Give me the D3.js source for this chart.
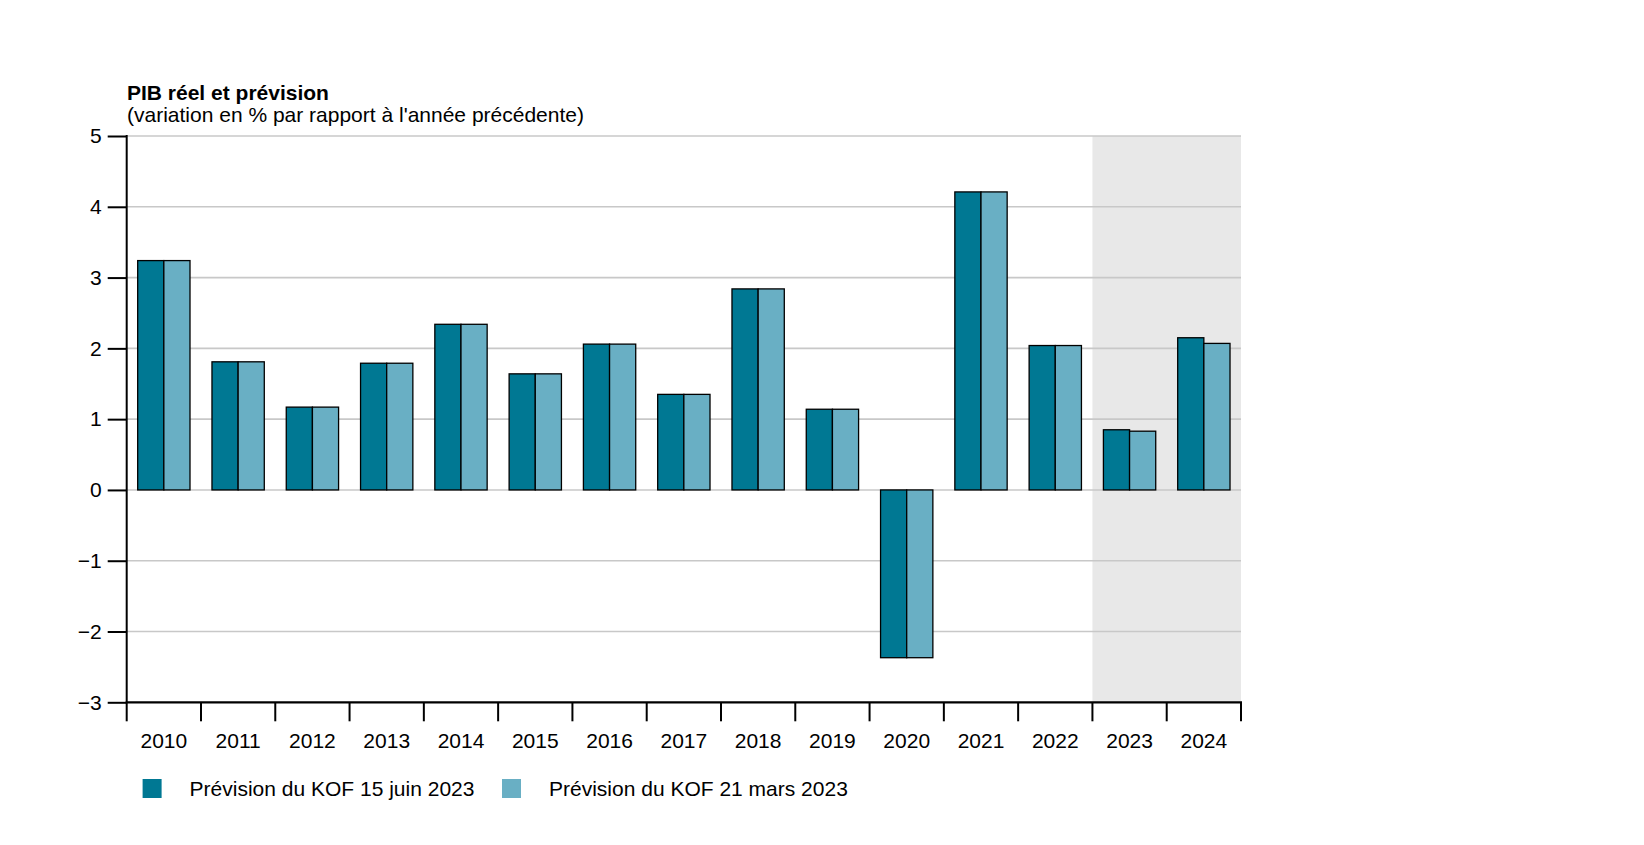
<!DOCTYPE html>
<html>
<head>
<meta charset="utf-8">
<script src="https://cdn.jsdelivr.net/npm/d3@7"></script>
<style>
  html, body { margin: 0; padding: 0; background: #fff; }
  svg { display: block; font-family: "Liberation Sans", Arial, Helvetica, sans-serif; }
</style>
</head>
<body>
<svg id="chart" width="1644" height="845"></svg>
<script>
// ---- data ----
const years = ["2010","2011","2012","2013","2014","2015","2016","2017","2018","2019","2020","2021","2022","2023","2024"];
const kofJune2023  = [3.24, 1.81, 1.17, 1.79, 2.34, 1.64, 2.06, 1.35, 2.84, 1.14, -2.37, 4.21, 2.04, 0.85, 2.15];
const kofMarch2023 = [3.24, 1.81, 1.17, 1.79, 2.34, 1.64, 2.06, 1.35, 2.84, 1.14, -2.37, 4.21, 2.04, 0.83, 2.07];
const seriesNames = ["Prévision du KOF 15 juin 2023", "Prévision du KOF 21 mars 2023"];
const forecastYears = ["2023", "2024"];
const yTicks = [-3, -2, -1, 0, 1, 2, 3, 4, 5];
const titleText = "PIB réel et prévision";
const subtitleText = "(variation en % par rapport à l'année précédente)";

// ---- layout ----
const colors = ["#007893", "#69afc4"];
const pLeft = 126.7, pRight = 1241, pTop = 136, pBottom = 702.3;
const fs = 21;

const svg = d3.select("#chart");

const x = d3.scaleBand().domain(years).range([pLeft, pRight]).padding(0);
const x1 = d3.scaleBand().domain([0, 1]).range([0, x.bandwidth()]).paddingInner(0).paddingOuter(0.42);
const y = d3.scaleLinear().domain([-3, 5]).range([pBottom, pTop]);

// forecast shading
svg.append("rect")
  .attr("x", x(forecastYears[0]))
  .attr("y", y(5))
  .attr("width", x(forecastYears[forecastYears.length - 1]) + x.bandwidth() - x(forecastYears[0]))
  .attr("height", y(-3) - y(5))
  .attr("fill", "#e8e8e8");

// gridlines
svg.append("g")
  .selectAll("line")
  .data(yTicks.filter(d => d > -3))
  .join("line")
  .attr("x1", pLeft).attr("x2", pRight)
  .attr("y1", d => y(d)).attr("y2", d => y(d))
  .attr("stroke", "#c8c8c8")
  .attr("stroke-width", 1.6);

// bars
const data = years.map((yr, i) => ({ year: yr, values: [kofJune2023[i], kofMarch2023[i]] }));
const groups = svg.append("g").selectAll("g")
  .data(data)
  .join("g")
  .attr("transform", d => `translate(${x(d.year)},0)`);

groups.selectAll("rect")
  .data(d => d.values.map((v, k) => ({ v, k })))
  .join("rect")
  .attr("x", d => x1(d.k))
  .attr("width", x1.bandwidth())
  .attr("y", d => y(Math.max(0, d.v)))
  .attr("height", d => Math.abs(y(d.v) - y(0)))
  .attr("fill", d => colors[d.k])
  .attr("stroke", "#000")
  .attr("stroke-width", 1.3);

// y axis
const yAxis = d3.axisLeft(y).tickValues(yTicks).tickSize(19).tickPadding(6).tickFormat(d3.format("d"));
const gy = svg.append("g").attr("transform", `translate(${pLeft},0)`).call(yAxis);
gy.select(".domain").remove();
gy.selectAll(".tick line").attr("stroke", "#000").attr("stroke-width", 2);
gy.selectAll(".tick text").attr("font-size", fs).attr("fill", "#000")
  .attr("font-family", "'Liberation Sans', Arial, sans-serif");
svg.append("line")
  .attr("x1", pLeft).attr("x2", pLeft)
  .attr("y1", y(5) - 1).attr("y2", y(-3))
  .attr("stroke", "#000").attr("stroke-width", 2);

// x axis
const gx = svg.append("g").attr("transform", `translate(0,${pBottom})`);
gx.append("line")
  .attr("x1", pLeft - 1).attr("x2", pRight + 1)
  .attr("y1", 0).attr("y2", 0)
  .attr("stroke", "#000").attr("stroke-width", 2.2);
const boundaries = years.map(d => x(d)).concat([x(years[years.length - 1]) + x.bandwidth()]);
gx.selectAll("line.tk")
  .data(boundaries)
  .join("line")
  .attr("class", "tk")
  .attr("x1", d => d).attr("x2", d => d)
  .attr("y1", 0).attr("y2", 19)
  .attr("stroke", "#000").attr("stroke-width", 2);
gx.selectAll("text")
  .data(years)
  .join("text")
  .attr("x", d => x(d) + x.bandwidth() / 2)
  .attr("y", 46)
  .attr("text-anchor", "middle")
  .attr("font-size", fs)
  .attr("fill", "#000")
  .text(d => d);

// title
svg.append("text")
  .attr("x", 127).attr("y", 99.5)
  .attr("font-size", fs).attr("font-weight", "bold")
  .attr("fill", "#000")
  .text(titleText);
svg.append("text")
  .attr("x", 127).attr("y", 122)
  .attr("font-size", fs)
  .attr("fill", "#000")
  .text(subtitleText);

// legend
const legendX = [142.6, 502];
const lg = svg.append("g").selectAll("g")
  .data(seriesNames)
  .join("g")
  .attr("transform", (d, i) => `translate(${legendX[i]},779)`);
lg.append("rect")
  .attr("width", 19).attr("height", 19)
  .attr("fill", (d, i) => colors[i]);
lg.append("text")
  .attr("x", 47).attr("y", 17)
  .attr("font-size", fs)
  .attr("fill", "#000")
  .text(d => d);
</script>
</body>
</html>
